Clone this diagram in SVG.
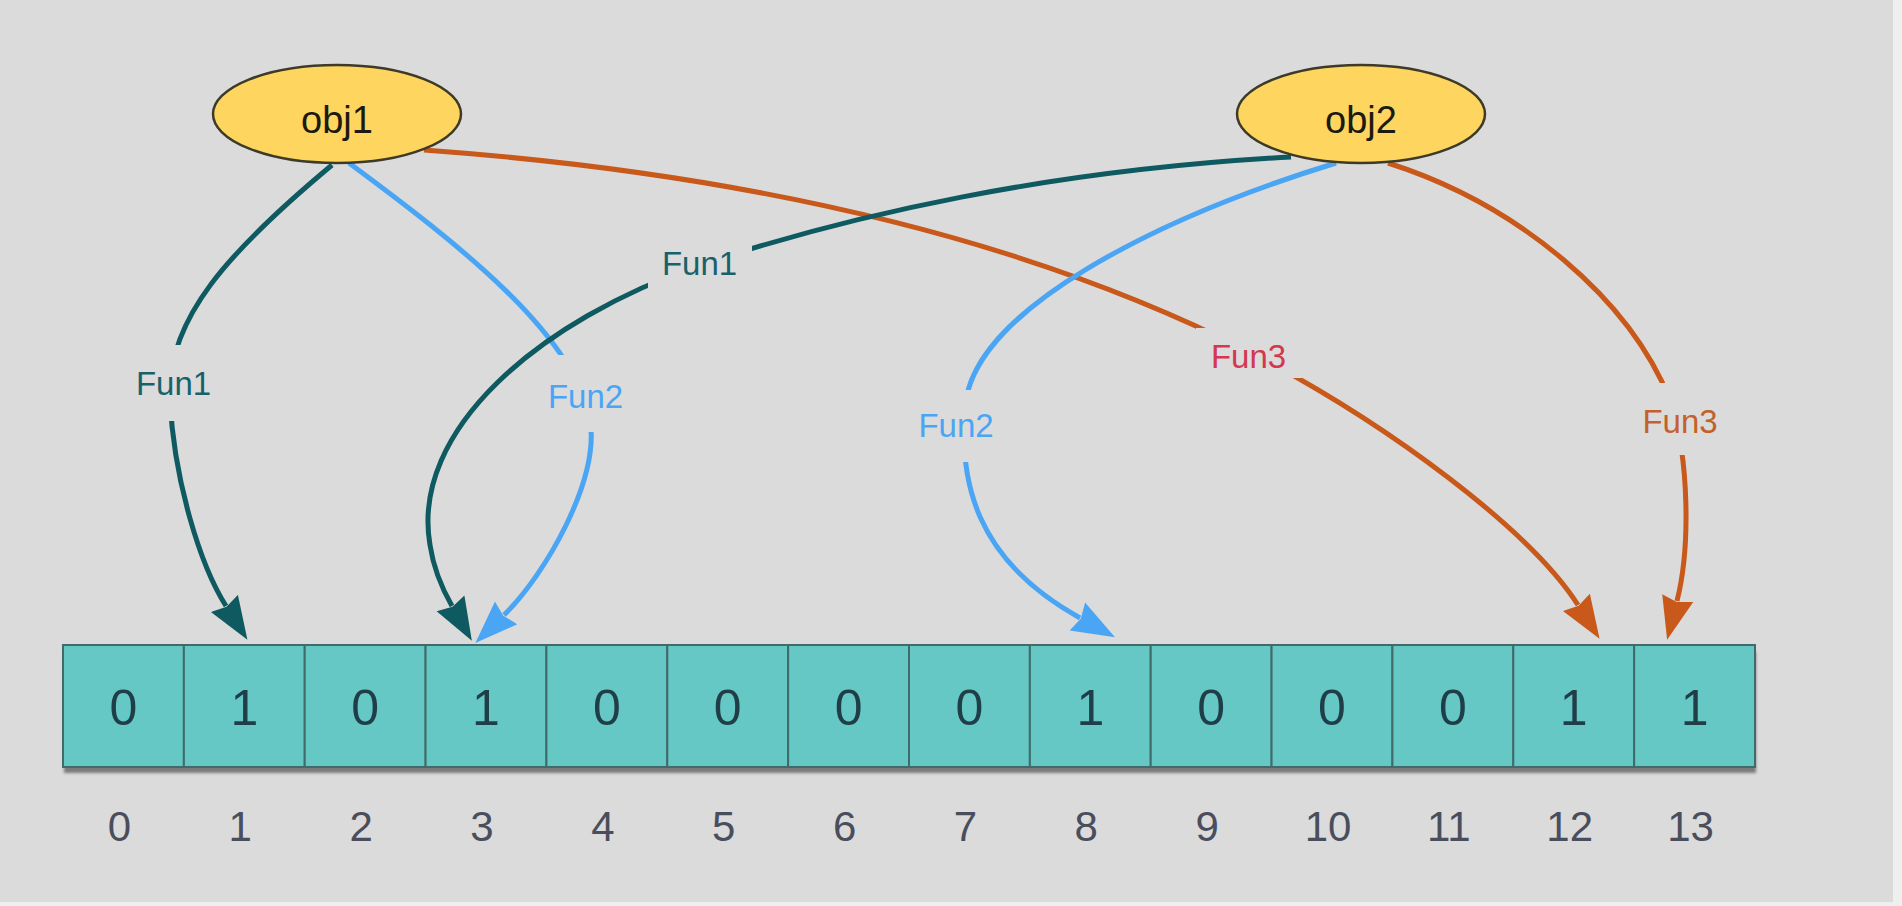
<svg xmlns="http://www.w3.org/2000/svg" width="1902" height="906" viewBox="0 0 1902 906">
<style>
.bg{fill:#dbdbdb}
.obj{fill:#fdd55f;stroke:#3d3a28;stroke-width:2.5}
.objt{font-family:"Liberation Sans",Arial,sans-serif;font-size:38px;fill:#1c1a10;text-anchor:middle}
.cell{fill:#66c8c5;stroke:#3f6b6a;stroke-width:2}
.bit{font-family:"Liberation Sans",Arial,sans-serif;font-size:50px;fill:#1f3e48;text-anchor:middle}
.idx{font-family:"Liberation Sans",Arial,sans-serif;font-size:42px;fill:#4a4e5c;text-anchor:middle}
.lbl{font-family:"Liberation Sans",Arial,sans-serif;font-size:33px;text-anchor:middle}
.gap{fill:#dbdbdb}
.ln{fill:none;stroke-width:5}
.teal{stroke:#0e5a60}
.blue{stroke:#4aa5f4}
.orange{stroke:#c8591b}
</style>
<defs>
<marker id="aTeal" markerUnits="userSpaceOnUse" viewBox="0 -17 44 34" markerWidth="44" markerHeight="34" refX="3" refY="0" orient="auto"><path d="M0,-16 L43,0 L0,16 L4,0 z" fill="#0e5a60"/></marker>
<marker id="aBlue" markerUnits="userSpaceOnUse" viewBox="0 -17 44 34" markerWidth="44" markerHeight="34" refX="3" refY="0" orient="auto"><path d="M0,-16 L43,0 L0,16 L4,0 z" fill="#4aa5f4"/></marker>
<marker id="aOrange" markerUnits="userSpaceOnUse" viewBox="0 -17 44 34" markerWidth="44" markerHeight="34" refX="3" refY="0" orient="auto"><path d="M0,-16 L43,0 L0,16 L4,0 z" fill="#c8591b"/></marker>
<filter id="sh" x="-5%" y="-50%" width="110%" height="200%"><feGaussianBlur stdDeviation="1.5"/></filter>
</defs>
<rect x="0" y="0" width="1902" height="906" fill="#efefef"/>
<rect class="bg" x="0" y="0" width="1893" height="902"/>

<g id="array">
<rect x="64" y="652" width="1692" height="121" fill="#5a5a5a" opacity="0.75" filter="url(#sh)"/>
<g id="cell0"><rect class="cell" x="63" y="645" width="120.86" height="122"/><text class="bit" x="123.4" y="725">0</text></g>
<g id="cell1"><rect class="cell" x="183.86" y="645" width="120.86" height="122"/><text class="bit" x="244.3" y="725">1</text></g>
<g id="cell2"><rect class="cell" x="304.71" y="645" width="120.86" height="122"/><text class="bit" x="365.1" y="725">0</text></g>
<g id="cell3"><rect class="cell" x="425.57" y="645" width="120.86" height="122"/><text class="bit" x="486" y="725">1</text></g>
<g id="cell4"><rect class="cell" x="546.43" y="645" width="120.86" height="122"/><text class="bit" x="606.9" y="725">0</text></g>
<g id="cell5"><rect class="cell" x="667.29" y="645" width="120.86" height="122"/><text class="bit" x="727.7" y="725">0</text></g>
<g id="cell6"><rect class="cell" x="788.14" y="645" width="120.86" height="122"/><text class="bit" x="848.6" y="725">0</text></g>
<g id="cell7"><rect class="cell" x="909" y="645" width="120.86" height="122"/><text class="bit" x="969.4" y="725">0</text></g>
<g id="cell8"><rect class="cell" x="1029.86" y="645" width="120.86" height="122"/><text class="bit" x="1090.3" y="725">1</text></g>
<g id="cell9"><rect class="cell" x="1150.71" y="645" width="120.86" height="122"/><text class="bit" x="1211.1" y="725">0</text></g>
<g id="cell10"><rect class="cell" x="1271.57" y="645" width="120.86" height="122"/><text class="bit" x="1332" y="725">0</text></g>
<g id="cell11"><rect class="cell" x="1392.43" y="645" width="120.86" height="122"/><text class="bit" x="1452.9" y="725">0</text></g>
<g id="cell12"><rect class="cell" x="1513.29" y="645" width="120.86" height="122"/><text class="bit" x="1573.7" y="725">1</text></g>
<g id="cell13"><rect class="cell" x="1634.14" y="645" width="120.86" height="122"/><text class="bit" x="1694.6" y="725">1</text></g>
</g>

<g id="indices">
<text class="idx" x="119.4" y="841">0</text>
<text class="idx" x="240.3" y="841">1</text>
<text class="idx" x="361.1" y="841">2</text>
<text class="idx" x="482" y="841">3</text>
<text class="idx" x="602.9" y="841">4</text>
<text class="idx" x="723.7" y="841">5</text>
<text class="idx" x="844.6" y="841">6</text>
<text class="idx" x="965.4" y="841">7</text>
<text class="idx" x="1086.3" y="841">8</text>
<text class="idx" x="1207.1" y="841">9</text>
<text class="idx" x="1328" y="841">10</text>
<text class="idx" x="1448.9" y="841">11</text>
<text class="idx" x="1569.7" y="841">12</text>
<text class="idx" x="1690.6" y="841">13</text>
</g>

<g id="connectors">
<path class="ln teal" d="M332,165 C230,250 165,320 170,400 C174,480 200,565 226,606" marker-end="url(#aTeal)"/>
<path class="ln blue" d="M349,163 C460,245 575,335 590,420 C600,480 545,575 504,615" marker-end="url(#aBlue)"/>
<path class="ln orange" d="M424,150 C700,170 1000,225 1250,352 C1390,425 1530,530 1578,605" marker-end="url(#aOrange)"/>
<path class="ln teal" d="M1291,157 C1050,170 850,215 700,265 C540,320 410,430 430,545 C433,565 440,585 452,606" marker-end="url(#aTeal)"/>
<path class="ln blue" d="M1336,163 C1150,220 980,310 966,400 C957,480 975,560 1080,618" marker-end="url(#aBlue)"/>
<path class="ln orange" d="M1388,163 C1520,205 1630,300 1670,400 C1690,460 1690,550 1677,601" marker-end="url(#aOrange)"/>

<rect class="gap" x="135" y="345" width="77" height="76"/>
<text class="lbl" x="173.5" y="395" fill="#17616b">Fun1</text>
<rect class="gap" x="545" y="355" width="82" height="77"/>
<text class="lbl" x="585.5" y="408" fill="#4aa5f4">Fun2</text>
<rect class="gap" x="648" y="238" width="104" height="50"/>
<text class="lbl" x="699.5" y="275" fill="#17616b">Fun1</text>
<rect class="gap" x="1196" y="328" width="106" height="50"/>
<text class="lbl" x="1248.5" y="368" fill="#d4374f">Fun3</text>
<rect class="gap" x="1636" y="383" width="88" height="72"/>
<text class="lbl" x="1680" y="433" fill="#c4612a">Fun3</text>
<rect class="gap" x="912" y="390" width="88" height="72"/>
<text class="lbl" x="956" y="437" fill="#4aa5f4">Fun2</text>
</g>

<g id="obj1"><ellipse class="obj" cx="337" cy="114" rx="124" ry="49"/><text class="objt" x="337" y="133">obj1</text></g>
<g id="obj2"><ellipse class="obj" cx="1361" cy="114" rx="124" ry="49"/><text class="objt" x="1361" y="133">obj2</text></g>
</svg>
